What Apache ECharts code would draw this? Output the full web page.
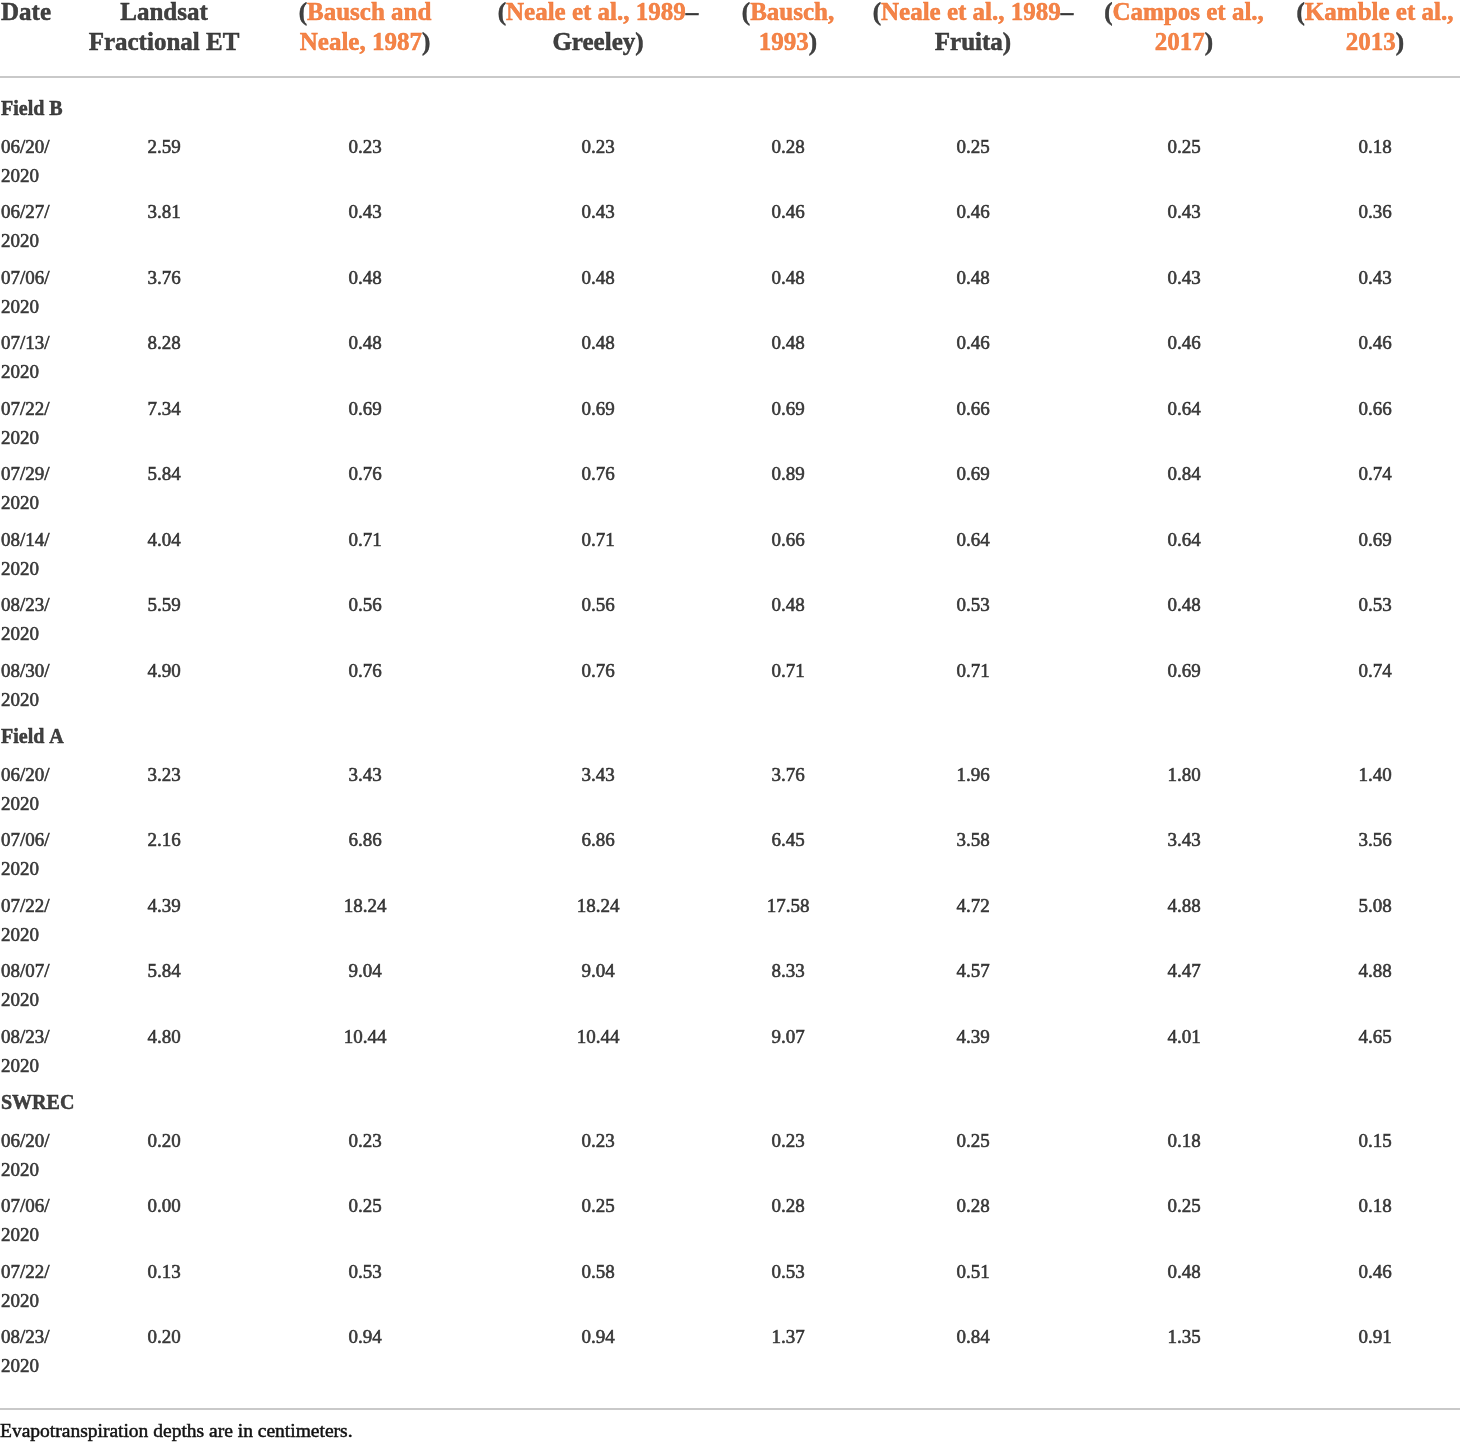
<!DOCTYPE html>
<html lang="en" style="height: 100%">
<head>
  <meta charset="utf-8">
  <script type="text/javascript" src="https://cdn.jsdelivr.net/npm/echarts@6/dist/echarts.min.js"></script>
</head>
<body style="height: 100%; margin: 0; background: #ffffff">
  <div id="container" style="width: 1460px; height: 1443px"></div>
  <script type="text/javascript">
    // column headers ({o|...} = orange citation text)
    var headers = [
      'Date',
      'Landsat\nFractional ET',
      '({o|Bausch and}\n{o|Neale, 1987})',
      '({o|Neale et al., 1989}–\nGreeley)',
      '({o|Bausch,}\n{o|1993})',
      '({o|Neale et al., 1989}–\nFruita)',
      '({o|Campos et al.,}\n{o|2017})',
      '({o|Kamble et al.,}\n{o|2013})'
    ];
    var sections = ['Field B', 'Field A', 'SWREC'];
    var fieldBDates = ['06/20/2020', '06/27/2020', '07/06/2020', '07/13/2020', '07/22/2020',
      '07/29/2020', '08/14/2020', '08/23/2020', '08/30/2020'];
    var fieldADates = ['06/20/2020', '07/06/2020', '07/22/2020', '08/07/2020', '08/23/2020'];
    var swrecDates = ['06/20/2020', '07/06/2020', '07/22/2020', '08/23/2020'];

    // values in row order: Field B, Field A, SWREC
    var landsat = [2.59, 3.81, 3.76, 8.28, 7.34, 5.84, 4.04, 5.59, 4.90,
      3.23, 2.16, 4.39, 5.84, 4.80,
      0.20, 0.00, 0.13, 0.20];
    var bauschNeale = [0.23, 0.43, 0.48, 0.48, 0.69, 0.76, 0.71, 0.56, 0.76,
      3.43, 6.86, 18.24, 9.04, 10.44,
      0.23, 0.25, 0.53, 0.94];
    var nealeGreeley = [0.23, 0.43, 0.48, 0.48, 0.69, 0.76, 0.71, 0.56, 0.76,
      3.43, 6.86, 18.24, 9.04, 10.44,
      0.23, 0.25, 0.58, 0.94];
    var bausch1993 = [0.28, 0.46, 0.48, 0.48, 0.69, 0.89, 0.66, 0.48, 0.71,
      3.76, 6.45, 17.58, 8.33, 9.07,
      0.23, 0.28, 0.53, 1.37];
    var nealeFruita = [0.25, 0.46, 0.48, 0.46, 0.66, 0.69, 0.64, 0.53, 0.71,
      1.96, 3.58, 4.72, 4.57, 4.39,
      0.25, 0.28, 0.51, 0.84];
    var campos = [0.25, 0.43, 0.43, 0.46, 0.64, 0.84, 0.64, 0.48, 0.69,
      1.80, 3.43, 4.88, 4.47, 4.01,
      0.18, 0.25, 0.48, 1.35];
    var kamble = [0.18, 0.36, 0.43, 0.46, 0.66, 0.74, 0.69, 0.53, 0.74,
      1.40, 3.56, 5.08, 4.88, 4.65,
      0.15, 0.18, 0.46, 0.91];
    var footnote = 'Evapotranspiration depths are in centimeters.';

    var methods = [landsat, bauschNeale, nealeGreeley, bausch1993, nealeFruita, campos, kamble];
    var sectionDates = [fieldBDates, fieldADates, swrecDates];

    // table layout (px)
    var W = 1460, H = 1443;
    var colW = [86, 156, 246, 220, 160, 210, 212, 170];
    var HEAD_H = 77, TOP_PAD = 14, SECTION_H = 38.5, ROW_H = 65.5, LINE_H = 29, BOTTOM_PAD = 23;
    var FONT = '"Liberation Serif", "Times New Roman", serif';
    var INK = '#111111';
    var ORANGE = '#f0651c';

    var colLeft = [], colMid = [];
    var acc = 0;
    colW.forEach(function (w) {
      colLeft.push(acc);
      colMid.push(acc + w / 2);
      acc += w;
    });

    // walk the rows, stacking heights from their line counts
    var sectionPts = [], datePts = [], valueY = [];
    var y = HEAD_H + TOP_PAD;
    sections.forEach(function (s, si) {
      sectionPts.push({ name: s, value: [colLeft[0] + 1, y + SECTION_H / 2] });
      y += SECTION_H;
      sectionDates[si].forEach(function (d) {
        var mid = y + ROW_H / 2;
        datePts.push({ name: d.slice(0, 6) + '\n' + d.slice(6), value: [colLeft[0] + 1, mid] });
        valueY.push(mid - LINE_H / 2);
        y += ROW_H;
      });
    });
    var tableBottom = y + BOTTOM_PAD;

    var headerPts = headers.map(function (h, i) {
      return {
        name: h,
        value: [i === 0 ? colLeft[0] + 1 : colMid[i], 0],
        label: { align: i === 0 ? 'left' : 'center' }
      };
    });

    function textSeries(name, data, label, extra) {
      var s = {
        name: name,
        type: 'scatter',
        silent: true,
        clip: false,
        symbolSize: 1,
        itemStyle: { color: 'rgba(0,0,0,0)' },
        emphasis: { disabled: true },
        data: data,
        label: Object.assign({
          show: true,
          position: 'inside',
          color: INK,
          fontFamily: FONT,
          fontSize: 19,
          textBorderColor: INK,
          textBorderWidth: 0.6,
          formatter: function (p) { return p.name; }
        }, label)
      };
      return Object.assign(s, extra || {});
    }

    var series = [
      textSeries('header', headerPts, {
        fontSize: 25,
        fontWeight: 'bold',
        lineHeight: 30,
        verticalAlign: 'top',
        offset: [0, -1],
        textBorderWidth: 0.5,
        rich: {
          o: {
            color: ORANGE, fontSize: 25, fontWeight: 'bold', fontFamily: FONT, lineHeight: 30,
            textBorderColor: ORANGE, textBorderWidth: 0.5
          }
        }
      }, {
        markLine: {
          silent: true,
          symbol: 'none',
          label: { show: false },
          lineStyle: { color: '#c9c9c9', width: 2, type: 'solid' },
          data: [{ yAxis: HEAD_H }, { yAxis: tableBottom }]
        }
      }),
      textSeries('section', sectionPts, {
        align: 'left', verticalAlign: 'middle', fontWeight: 'bold', fontSize: 20, textBorderWidth: 0.5
      }),
      textSeries('date', datePts, {
        align: 'left', verticalAlign: 'middle', lineHeight: LINE_H
      })
    ];
    methods.forEach(function (vals, mi) {
      series.push(textSeries(headers[mi + 1], vals.map(function (v, ri) {
        return { name: v.toFixed(2), value: [colMid[mi + 1], valueY[ri]] };
      }), { align: 'center', verticalAlign: 'middle' }));
    });

    var dom = document.getElementById('container');
    var myChart = echarts.init(dom, null, { renderer: 'canvas' });
    var option = {
      backgroundColor: '#ffffff',
      animation: false,
      title: {
        text: footnote,
        left: 0,
        top: tableBottom + 13,
        padding: 0,
        textStyle: {
          color: INK, fontFamily: FONT, fontSize: 19.5, fontWeight: 'normal',
          textBorderColor: INK, textBorderWidth: 0.5
        }
      },
      grid: { left: 0, right: 0, top: 0, bottom: 0 },
      xAxis: { type: 'value', min: 0, max: W, show: false },
      yAxis: { type: 'value', min: 0, max: H, inverse: true, show: false },
      series: series
    };
    myChart.setOption(option);
  </script>
</body>
</html>
